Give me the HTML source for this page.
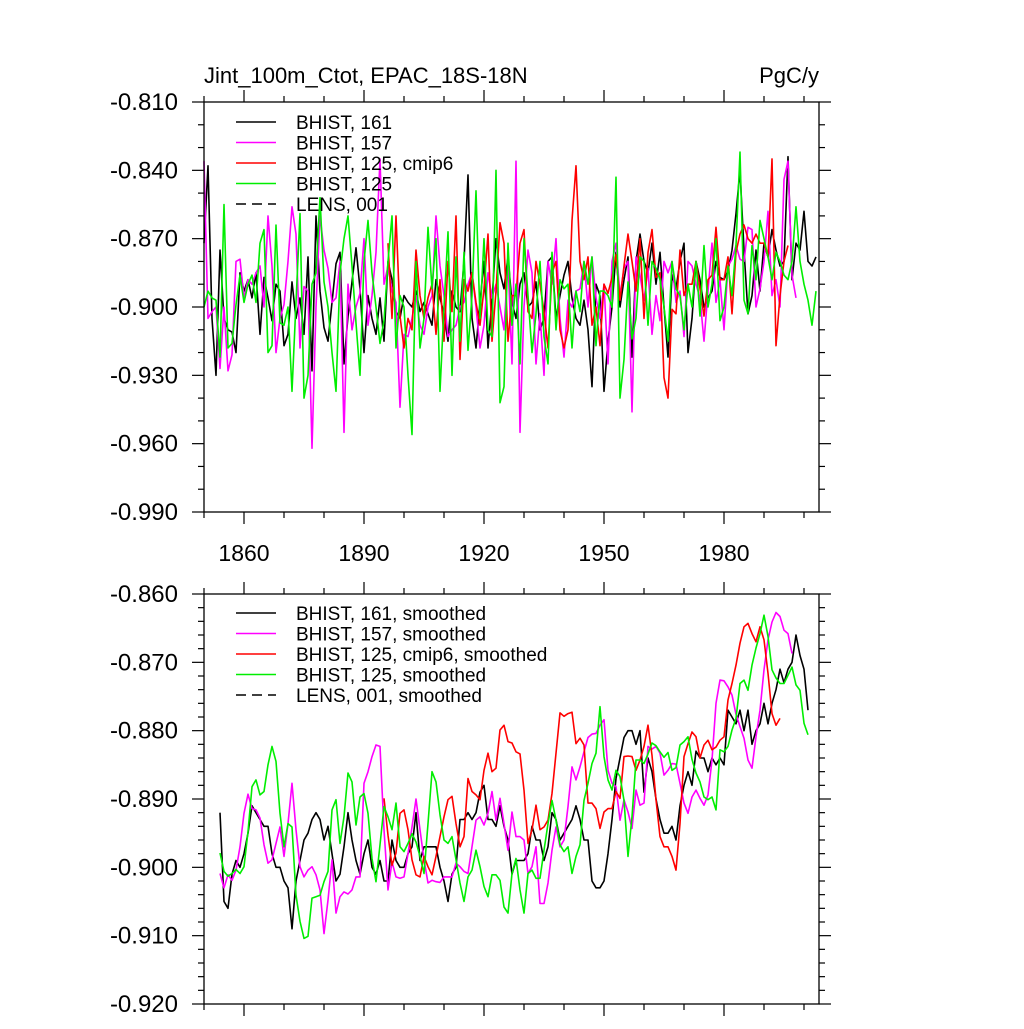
<!DOCTYPE html>
<html><head><meta charset="utf-8">
<style>
html,body{margin:0;padding:0;background:#fff;}
svg text{font-family:"Liberation Sans",Arial,sans-serif;fill:#000;}
</style></head>
<body>
<svg id="chart" width="1024" height="1024" viewBox="0 0 1024 1024" xmlns="http://www.w3.org/2000/svg"></svg>
<script>
// ---------- data ----------
const rawStart161 = 1850;
const raw161 = [-0.872,-0.838,-0.905,-0.930,-0.875,-0.905,-0.910,-0.911,-0.920,-0.885,
-0.893,-0.888,-0.896,-0.885,-0.912,-0.887,-0.896,-0.906,-0.890,-0.893,
-0.917,-0.912,-0.889,-0.905,-0.896,-0.912,-0.878,-0.928,-0.860,-0.893,
-0.909,-0.915,-0.898,-0.881,-0.876,-0.925,-0.904,-0.889,-0.874,-0.892,
-0.920,-0.895,-0.905,-0.912,-0.896,-0.915,-0.880,-0.888,-0.902,-0.905,
-0.895,-0.898,-0.900,-0.893,-0.902,-0.898,-0.903,-0.908,-0.888,-0.896,
-0.903,-0.915,-0.893,-0.900,-0.902,-0.880,-0.842,-0.905,-0.918,-0.898,
-0.880,-0.918,-0.897,-0.870,-0.885,-0.892,-0.878,-0.898,-0.905,-0.890,
-0.885,-0.900,-0.898,-0.889,-0.910,-0.905,-0.880,-0.878,-0.905,-0.895,
-0.886,-0.880,-0.896,-0.905,-0.908,-0.897,-0.910,-0.935,-0.890,-0.895,
-0.937,-0.915,-0.900,-0.876,-0.900,-0.888,-0.878,-0.922,-0.880,-0.868,
-0.880,-0.885,-0.872,-0.890,-0.876,-0.900,-0.922,-0.886,-0.892,-0.880,
-0.872,-0.920,-0.905,-0.880,-0.888,-0.900,-0.896,-0.893,-0.880,-0.887,
-0.888,-0.884,-0.875,-0.859,-0.840,-0.875,-0.903,-0.895,-0.875,-0.893,
-0.872,-0.878,-0.866,-0.875,-0.882,-0.880,-0.834,-0.888,-0.872,-0.875,
-0.858,-0.880,-0.882,-0.878];
const rawStart157 = 1850;
const raw157 = [-0.836,-0.905,-0.902,-0.900,-0.927,-0.900,-0.928,-0.921,-0.880,-0.879,
-0.896,-0.888,-0.890,-0.885,-0.882,-0.900,-0.860,-0.882,-0.920,-0.905,
-0.899,-0.880,-0.856,-0.868,-0.918,-0.891,-0.893,-0.962,-0.900,-0.860,
-0.875,-0.883,-0.898,-0.896,-0.880,-0.955,-0.890,-0.910,-0.900,-0.894,
-0.870,-0.908,-0.895,-0.876,-0.835,-0.890,-0.882,-0.893,-0.898,-0.944,
-0.912,-0.913,-0.905,-0.895,-0.908,-0.912,-0.900,-0.895,-0.860,-0.882,
-0.895,-0.913,-0.910,-0.908,-0.900,-0.898,-0.890,-0.885,-0.900,-0.918,
-0.908,-0.885,-0.896,-0.890,-0.900,-0.910,-0.880,-0.925,-0.836,-0.955,
-0.900,-0.875,-0.885,-0.925,-0.903,-0.930,-0.880,-0.890,-0.870,-0.905,
-0.922,-0.897,-0.900,-0.893,-0.892,-0.880,-0.900,-0.878,-0.896,-0.905,
-0.890,-0.925,-0.880,-0.872,-0.895,-0.883,-0.880,-0.946,-0.878,-0.886,
-0.897,-0.883,-0.912,-0.895,-0.906,-0.880,-0.885,-0.880,-0.898,-0.893,
-0.913,-0.880,-0.882,-0.890,-0.896,-0.915,-0.893,-0.872,-0.898,-0.888,
-0.910,-0.882,-0.879,-0.873,-0.879,-0.880,-0.865,-0.866,-0.900,-0.892,
-0.880,-0.858,-0.895,-0.888,-0.900,-0.844,-0.836,-0.886,-0.896];
const rawStart125c6 = 1896;
const raw125c6 = [-0.872,-0.905,-0.860,-0.904,
-0.918,-0.905,-0.910,-0.875,-0.895,-0.905,-0.896,-0.890,-0.912,-0.888,
-0.915,-0.880,-0.902,-0.860,-0.923,-0.888,-0.893,-0.885,-0.898,-0.908,
-0.892,-0.868,-0.915,-0.893,-0.863,-0.872,-0.915,-0.895,-0.895,-0.872,
-0.866,-0.902,-0.905,-0.880,-0.890,-0.902,-0.918,-0.885,-0.880,-0.910,
-0.918,-0.910,-0.862,-0.838,-0.880,-0.888,-0.878,-0.908,-0.900,-0.917,
-0.890,-0.894,-0.887,-0.877,-0.897,-0.882,-0.868,-0.880,-0.893,-0.870,
-0.905,-0.876,-0.866,-0.887,-0.885,-0.931,-0.940,-0.901,-0.903,-0.875,
-0.895,-0.890,-0.890,-0.880,-0.892,-0.904,-0.888,-0.886,-0.865,-0.888,
-0.888,-0.878,-0.903,-0.876,-0.868,-0.864,-0.870,-0.872,-0.868,-0.872,
-0.872,-0.878,-0.835,-0.917,-0.895,-0.880,-0.873];
const rawStart125 = 1850;
const raw125 = [-0.900,-0.893,-0.896,-0.897,-0.922,-0.855,-0.918,-0.916,-0.899,-0.886,
-0.898,-0.890,-0.886,-0.898,-0.872,-0.866,-0.920,-0.917,-0.864,-0.907,
-0.908,-0.900,-0.937,-0.898,-0.859,-0.940,-0.930,-0.890,-0.885,-0.852,
-0.889,-0.900,-0.920,-0.937,-0.885,-0.870,-0.860,-0.882,-0.907,-0.930,
-0.880,-0.862,-0.885,-0.900,-0.916,-0.906,-0.880,-0.860,-0.918,-0.895,
-0.900,-0.930,-0.956,-0.880,-0.918,-0.905,-0.865,-0.892,-0.870,-0.937,
-0.900,-0.867,-0.930,-0.878,-0.915,-0.876,-0.919,-0.895,-0.849,-0.905,
-0.870,-0.910,-0.913,-0.840,-0.942,-0.935,-0.872,-0.908,-0.890,-0.925,
-0.870,-0.895,-0.920,-0.903,-0.880,-0.913,-0.925,-0.876,-0.910,-0.888,
-0.892,-0.890,-0.918,-0.893,-0.902,-0.880,-0.890,-0.878,-0.917,-0.893,
-0.893,-0.895,-0.900,-0.843,-0.940,-0.923,-0.889,-0.914,-0.905,-0.878,
-0.880,-0.908,-0.880,-0.883,-0.888,-0.900,-0.915,-0.880,-0.892,-0.895,
-0.910,-0.890,-0.900,-0.880,-0.904,-0.873,-0.900,-0.890,-0.870,-0.906,
-0.900,-0.882,-0.895,-0.873,-0.832,-0.897,-0.903,-0.873,-0.888,-0.862,
-0.870,-0.878,-0.888,-0.876,-0.880,-0.886,-0.888,-0.880,-0.856,-0.880,
-0.890,-0.897,-0.908,-0.893];

const smStart161 = 1854;
const sm161 = [-0.892,-0.905,-0.906,-0.901,-0.899,-0.900,
-0.898,-0.895,-0.891,-0.892,-0.893,-0.894,-0.894,-0.898,-0.900,-0.900,
-0.902,-0.903,-0.909,-0.902,-0.899,-0.896,-0.895,-0.893,-0.892,-0.893,
-0.896,-0.894,-0.898,-0.902,-0.901,-0.897,-0.892,-0.896,-0.899,-0.901,
-0.898,-0.896,-0.900,-0.901,-0.899,-0.902,-0.902,-0.896,-0.899,-0.900,
-0.900,-0.898,-0.897,-0.892,-0.899,-0.897,-0.897,-0.897,-0.897,-0.900,
-0.902,-0.905,-0.901,-0.900,-0.893,-0.893,-0.892,-0.893,-0.892,-0.889,
-0.888,-0.893,-0.893,-0.894,-0.891,-0.894,-0.896,-0.901,-0.899,-0.899,
-0.899,-0.898,-0.894,-0.896,-0.896,-0.899,-0.897,-0.892,-0.893,-0.896,
-0.895,-0.894,-0.893,-0.891,-0.893,-0.896,-0.896,-0.902,-0.903,-0.903,
-0.902,-0.898,-0.893,-0.887,-0.884,-0.881,-0.880,-0.880,-0.882,-0.880,
-0.889,-0.884,-0.886,-0.890,-0.893,-0.895,-0.895,-0.894,-0.896,-0.891,
-0.888,-0.886,-0.888,-0.883,-0.884,-0.884,-0.886,-0.884,-0.885,-0.884,
-0.885,-0.877,-0.878,-0.879,-0.877,-0.880,-0.877,-0.882,-0.880,-0.879,
-0.876,-0.879,-0.876,-0.874,-0.871,-0.873,-0.871,-0.870,-0.866,-0.869,
-0.871,-0.877];
const smStart157 = 1854;
const sm157 = [-0.9009,-0.903,-0.9011,-0.9019,-0.9004,-0.897,
-0.8921,-0.8893,-0.8914,-0.8916,-0.8928,-0.8967,-0.8994,-0.8989,-0.8965,-0.8941,
-0.8984,-0.8936,-0.8877,-0.8945,-0.8999,-0.9014,-0.9004,-0.8999,-0.9011,-0.9033,
-0.9097,-0.9048,-0.8989,-0.9067,-0.9043,-0.9036,-0.9039,-0.9033,-0.9014,-0.9014,
-0.8877,-0.886,-0.8838,-0.8821,-0.8823,-0.8945,-0.9033,-0.8992,-0.9014,-0.9016,
-0.9014,-0.898,-0.8941,-0.890,-0.8945,-0.8989,-0.9023,-0.9019,-0.9021,-0.9022,
-0.9014,-0.9014,-0.9014,-0.8994,-0.8999,-0.9006,-0.9009,-0.897,-0.8931,-0.8926,
-0.8938,-0.8921,-0.8889,-0.8931,-0.8899,-0.8936,-0.8975,-0.8919,-0.8955,-0.8955,
-0.896,-0.9009,-0.8999,-0.897,-0.9053,-0.9053,-0.9023,-0.8975,-0.8941,-0.897,
-0.896,-0.8911,-0.8853,-0.8872,-0.8853,-0.8831,-0.881,-0.8805,-0.8804,-0.8792,
-0.8784,-0.8858,-0.8877,-0.8882,-0.8931,-0.8901,-0.8919,-0.8943,-0.8887,-0.8909,
-0.8906,-0.8823,-0.8827,-0.8823,-0.8833,-0.8865,-0.8858,-0.8848,-0.8849,-0.8877,
-0.8906,-0.8921,-0.8897,-0.8887,-0.8899,-0.8909,-0.8894,-0.8843,-0.876,-0.8726,
-0.8727,-0.8736,-0.8748,-0.8776,-0.8794,-0.8811,-0.8843,-0.8855,-0.8809,-0.877,
-0.8711,-0.8667,-0.8641,-0.8627,-0.8633,-0.8653,-0.8658,-0.8687];
const smStart125c6 = 1895;
const sm125c6 = [-0.8899,-0.8953,-0.8997,-0.8979,-0.8921,
-0.8916,-0.8945,-0.8989,-0.9011,-0.9014,-0.8984,-0.8999,-0.9011,-0.8984,-0.8955,
-0.8926,-0.8901,-0.8896,-0.8936,-0.897,-0.8955,-0.887,-0.8889,-0.8894,-0.8901,
-0.8858,-0.8833,-0.886,-0.8855,-0.8799,-0.8792,-0.8816,-0.8818,-0.8831,-0.8834,
-0.8887,-0.8965,-0.8945,-0.8909,-0.8945,-0.8941,-0.8931,-0.8892,-0.8833,-0.8774,
-0.8779,-0.8775,-0.8773,-0.8819,-0.8811,-0.8821,-0.8906,-0.8906,-0.8914,-0.8943,
-0.8919,-0.8914,-0.8914,-0.8889,-0.8899,-0.8838,-0.8837,-0.8838,-0.8858,-0.8843,
-0.8823,-0.8792,-0.8836,-0.8901,-0.8955,-0.897,-0.897,-0.8984,-0.9004,-0.8936,
-0.8838,-0.8819,-0.8802,-0.8809,-0.884,-0.8821,-0.8814,-0.8828,-0.8824,-0.8814,
-0.8809,-0.8755,-0.8731,-0.8704,-0.8672,-0.8648,-0.8643,-0.8658,-0.867,-0.8648,
-0.8667,-0.8716,-0.8775,-0.8792,-0.8782];
const smStart125 = 1854;
const sm125 = [-0.8979,-0.9006,-0.9013,-0.9009,-0.9003,-0.9009,
-0.8999,-0.8948,-0.8882,-0.8872,-0.8894,-0.8889,-0.885,-0.8823,-0.8845,-0.8921,
-0.897,-0.8936,-0.8941,-0.9041,-0.9079,-0.9104,-0.9101,-0.9045,-0.9043,-0.9041,
-0.9021,-0.9006,-0.8916,-0.8901,-0.8965,-0.8926,-0.8862,-0.8875,-0.8938,-0.8897,
-0.8892,-0.8921,-0.8987,-0.9021,-0.8967,-0.8911,-0.8926,-0.8945,-0.8906,-0.897,
-0.8977,-0.8965,-0.8951,-0.8963,-0.8984,-0.9009,-0.8936,-0.886,-0.8875,-0.8923,
-0.896,-0.8965,-0.8955,-0.8989,-0.9023,-0.905,-0.9014,-0.9004,-0.8975,-0.8999,
-0.9028,-0.9043,-0.9011,-0.9011,-0.9019,-0.9058,-0.9067,-0.9009,-0.8987,-0.9033,
-0.9067,-0.9009,-0.9004,-0.9016,-0.9016,-0.8975,-0.8936,-0.8902,-0.8931,-0.8967,
-0.8977,-0.897,-0.9009,-0.8984,-0.8967,-0.8902,-0.8877,-0.8848,-0.8833,-0.8765,
-0.8838,-0.8872,-0.8887,-0.8858,-0.8867,-0.8902,-0.8984,-0.8926,-0.8843,-0.8843,
-0.8848,-0.8834,-0.8818,-0.8822,-0.8831,-0.8839,-0.8832,-0.8858,-0.8854,-0.8821,
-0.8816,-0.8809,-0.8842,-0.8862,-0.8875,-0.8897,-0.8901,-0.8897,-0.8916,-0.8828,
-0.8831,-0.8823,-0.8799,-0.8782,-0.8731,-0.8726,-0.8741,-0.8704,-0.8679,-0.8658,
-0.8631,-0.8662,-0.8711,-0.8723,-0.8731,-0.8731,-0.8719,-0.8707,-0.8733,-0.8741,
-0.8789,-0.8806];

const xTickYears = [1860,1890,1920,1950,1980];
const topYTicks = [-0.81,-0.84,-0.87,-0.90,-0.93,-0.96,-0.99];
const topYLabels = ["-0.810","-0.840","-0.870","-0.900","-0.930","-0.960","-0.990"];
const botYTicks = [-0.86,-0.87,-0.88,-0.89,-0.90,-0.91,-0.92];
const botYLabels = ["-0.860","-0.870","-0.880","-0.890","-0.900","-0.910","-0.920"];
const topLegend = ["BHIST, 161","BHIST, 157","BHIST, 125, cmip6","BHIST, 125","LENS, 001"];
const botLegend = ["BHIST, 161, smoothed","BHIST, 157, smoothed","BHIST, 125, cmip6, smoothed","BHIST, 125, smoothed","LENS, 001, smoothed"];

// ---------- drawing ----------
const NS = "http://www.w3.org/2000/svg";
const svg = document.getElementById('chart');
const X0 = 204, X1 = 819, YEAR0 = 1850;
function xs(yr){ return X0 + (yr - YEAR0) * 4; }
function mk(tag, attrs, parent){
  const e = document.createElementNS(NS, tag);
  for (const k in attrs) e.setAttribute(k, attrs[k]);
  (parent || svg).appendChild(e);
  return e;
}
const colors = ["#000000","#ff00ff","#ff0000","#00ee00"];

function panel(name, top, bot, vmax, vmin, minorStep, majorStep, yTicks, yLabels, series, legend, legTop, showXLabels){
  const g = mk('g', {});
  
  
  const ys = v => top + (vmax - v) / (vmax - vmin) * (bot - top);
  series.forEach((s, i) => {
    const pts = s.vals.map((v, k) => xs(s.start + k).toFixed(1) + ',' + ys(v).toFixed(1)).join(' ');
    const pl = mk('polyline', {points: pts, fill: 'none', stroke: colors[i], 'stroke-width': 1.6, 'stroke-linejoin': 'round'}, g);
    
    
  });
  const fr = mk('rect', {x: X0, y: top, width: X1 - X0, height: bot - top, fill: 'none', stroke: '#000', 'stroke-width': 1.3}, g);
  
  
  const nMinor = Math.round((vmax - vmin) / minorStep);
  const per = Math.round(majorStep / minorStep);
  for (let k = 0; k <= nMinor; k++){
    const y = top + k * (bot - top) / nMinor;
    const len = (k % per === 0) ? 12 : 6;
    mk('line', {x1: X0 - len, x2: X0, y1: y, y2: y, stroke: '#000', 'stroke-width': 1.2}, g);
    mk('line', {x1: X1, x2: X1 + len, y1: y, y2: y, stroke: '#000', 'stroke-width': 1.2}, g);
  }
  yTicks.forEach((v, i) => {
    const t = mk('text', {x: 178, y: ys(v) + 8, 'text-anchor': 'end', 'font-size': 24}, g);
    t.textContent = yLabels[i];
    
    
  });
  for (let yr = 1850; yr <= 2000; yr += 10){
    const x = xs(yr);
    const major = xTickYears.indexOf(yr) >= 0;
    const len = major ? 12 : 6;
    mk('line', {x1: x, x2: x, y1: top - len, y2: top, stroke: '#000', 'stroke-width': 1.2}, g);
    mk('line', {x1: x, x2: x, y1: bot, y2: bot + len, stroke: '#000', 'stroke-width': 1.2}, g);
  }
  if (showXLabels){
    xTickYears.forEach(yr => {
      const t = mk('text', {x: xs(yr), y: bot + 49, 'text-anchor': 'middle', 'font-size': 23}, g);
      t.textContent = yr;
      
      
    });
  }
  legend.forEach((lab, i) => {
    const y = legTop + i * 20.5;
    const ln = mk('line', {x1: 236, x2: 276, y1: y, y2: y, stroke: i < 4 ? colors[i] : '#000', 'stroke-width': 1.6}, g);
    if (i === 4) ln.setAttribute('stroke-dasharray', '10,6');
    
    
    const t = mk('text', {x: 296, y: y + 7, 'font-size': 19}, g);
    t.textContent = lab;
    
    
  });
}

panel('top-panel', 102, 512, -0.81, -0.99, 0.01, 0.03, topYTicks, topYLabels,
  [{start: rawStart161, vals: raw161},{start: rawStart157, vals: raw157},{start: rawStart125c6, vals: raw125c6},{start: rawStart125, vals: raw125}],
  topLegend, 122, true);
panel('bottom-panel', 594, 1004, -0.86, -0.92, 0.002, 0.01, botYTicks, botYLabels,
  [{start: smStart161, vals: sm161},{start: smStart157, vals: sm157},{start: smStart125c6, vals: sm125c6},{start: smStart125, vals: sm125}],
  botLegend, 613, false);

const title = mk('text', {x: 204, y: 83, 'font-size': 22});
title.textContent = 'Jint_100m_Ctot, EPAC_18S-18N';


const units = mk('text', {x: 819, y: 83, 'font-size': 22, 'text-anchor': 'end'});
units.textContent = 'PgC/y';


</script>
</body></html>
